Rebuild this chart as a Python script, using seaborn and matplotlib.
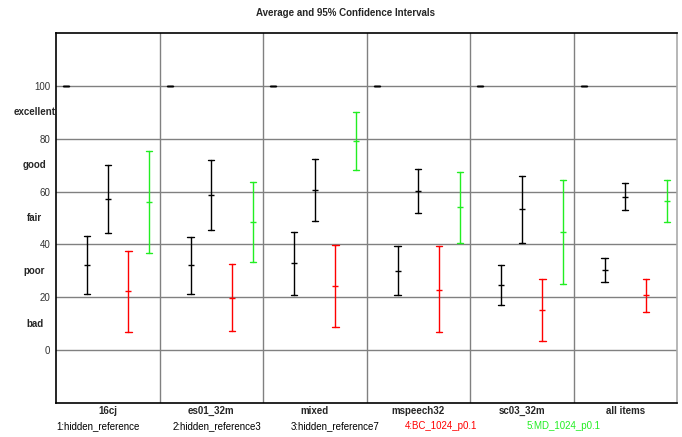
import numpy as np
import pandas as pd
import matplotlib
matplotlib.use("Agg")
import matplotlib.pyplot as plt
import seaborn as sns

groups = ["16cj", "es01_32m", "mixed", "mspeech32", "sc03_32m", "all items"]
systems = ["1:hidden_reference", "2:hidden_reference3", "3:hidden_reference7",
           "4:BC_1024_p0.1", "5:MD_1024_p0.1"]
colors = ["black", "black", "black", "#ff0000", "#22ee22"]

# mean, lower and upper 95% CI per system (rows) and group (columns)
means = [
    [100, 100, 100, 100, 100, 100],
    [32.2, 32.1, 32.9, 30.1, 24.7, 30.4],
    [57.2, 58.6, 60.7, 60.2, 53.4, 58.1],
    [22.2, 19.8, 24.2, 22.9, 15.1, 20.8],
    [56.0, 48.6, 79.2, 54.2, 44.8, 56.5],
]
lows = [
    [100, 100, 100, 100, 100, 100],
    [21.4, 21.4, 20.9, 20.7, 17.0, 25.9],
    [44.2, 45.3, 48.7, 52.0, 40.7, 53.0],
    [6.8, 7.2, 8.6, 6.7, 3.3, 14.6],
    [36.6, 33.5, 68.1, 40.7, 25.2, 48.6],
]
highs = [
    [100, 100, 100, 100, 100, 100],
    [43.1, 42.7, 44.7, 39.5, 32.2, 34.9],
    [70.2, 71.8, 72.5, 68.5, 66.0, 63.1],
    [37.4, 32.5, 39.9, 39.3, 26.8, 27.0],
    [75.4, 63.7, 90.2, 67.5, 64.5, 64.5],
]
yticks = [0, 20, 40, 60, 80, 100]
quality_labels = ["bad", "poor", "fair", "good", "excellent"]
quality_pos = [10, 30, 50, 70, 90]

rows = []
for si, s in enumerate(systems):
    for gi, g in enumerate(groups):
        for v in (lows[si][gi], means[si][gi], highs[si][gi]):
            rows.append({"group": g, "system": s, "score": v})
df = pd.DataFrame(rows)

sns.set_style("white")
plt.rcParams["font.family"] = ["Liberation Sans", "DejaVu Sans"]
FS = 7

fig = plt.figure(figsize=(6.82, 4.37), dpi=100)
ax = fig.add_axes([56 / 682, 1 - 403 / 437, (677 - 56) / 682, (403 - 33) / 437])

for y in yticks:
    ax.axhline(y, color="#808080", lw=1.0, zorder=0)
for x in np.arange(0.5, len(groups) - 0.5, 1):
    ax.axvline(x, color="#808080", lw=1.0, zorder=0)

sns.pointplot(data=df, x="group", y="score", hue="system", order=groups,
              hue_order=systems, palette=colors, estimator="median",
              errorbar=("pi", 100), dodge=0.8, linestyle="none",
              marker="_", markersize=5, markeredgewidth=1.0,
              capsize=0.06, err_kws={"linewidth": 1.0}, legend=False, ax=ax)

ax.set_xlim(-0.5, len(groups) - 0.5)
ax.set_ylim(-20, 120)
ax.set_xlabel("")
ax.set_ylabel("")
ax.set_yticks(yticks)
ax.set_yticklabels([str(v) for v in yticks], color="#333333", fontsize=FS)
ax.tick_params(axis="y", length=0, pad=4)
ax.set_xticks(range(len(groups)))
ax.set_xticklabels(groups, fontsize=FS, fontweight="bold")
for lab in ax.get_xticklabels():
    lab.set_verticalalignment("baseline")
ax.tick_params(axis="x", length=0, pad=8)
ax.set_xticks(np.arange(0.5, len(groups) - 0.5, 1), minor=True)
ax.tick_params(axis="x", which="minor", length=4, color="#808080", direction="out")

for sp in ["left", "bottom", "top"]:
    ax.spines[sp].set_color("black")
    ax.spines[sp].set_linewidth(1.2)
ax.spines["right"].set_color("#aaaaaa")
ax.spines["right"].set_linewidth(1.2)

for lab, pos in zip(quality_labels, quality_pos):
    ax.text(-21.5 / 621, pos, lab, transform=ax.get_yaxis_transform(),
            ha="center", va="center", fontsize=FS, fontweight="bold")

fig.text(345 / 682, 1 - 13 / 437, "Average and 95% Confidence Intervals",
         ha="center", va="center", fontsize=FS, fontweight="bold")

leg_x = [56, 173, 291, 405, 527]
for s, c, x in zip(systems, colors, leg_x):
    fig.text(x / 682, 1 - 426 / 437, s, ha="left", va="center",
             fontsize=FS, color=c)

fig.savefig("out.png", dpi=100)
